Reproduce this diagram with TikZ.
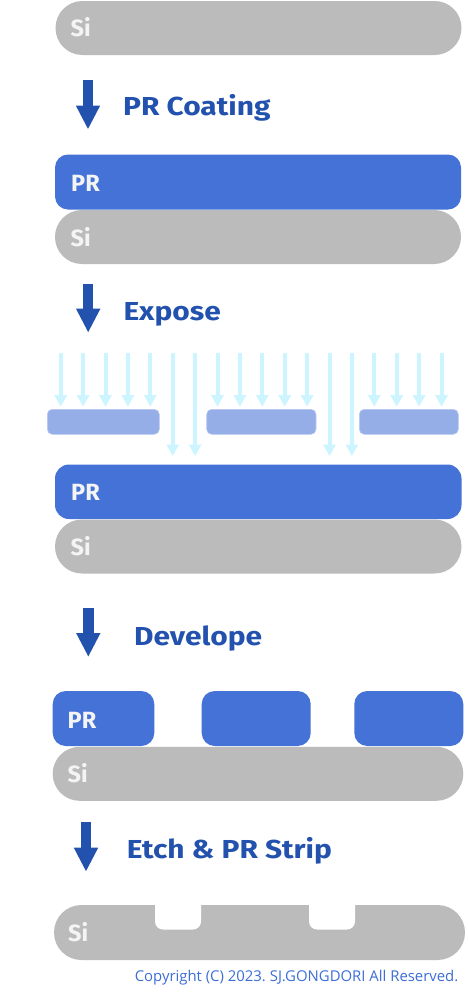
\documentclass[tikz,border=0pt]{standalone}
\usepackage{fontspec}
\setmainfont{Open Sans}
\newfontfamily\titlefont{Fira Sans}
\newfontfamily\lblfont{Fira Sans}
\frenchspacing
\usetikzlibrary{arrows.meta}
\definecolor{sigray}{HTML}{BBBBBB}
\definecolor{prblue}{HTML}{4472D6}
\definecolor{maskblue}{HTML}{96AEE8}
\definecolor{maskedge}{HTML}{B8C8F0}
\definecolor{expocyan}{HTML}{CCF5FF}
\definecolor{stepblue}{HTML}{2352AE}
\definecolor{copyblue}{HTML}{3C6ED6}
\definecolor{lbltext}{HTML}{F4F4F4}
\newcommand{\wide}[1]{\scalebox{1.15}[1]{#1}}
\tikzset{
  layer/.style={anchor=north west, inner sep=0pt, outer sep=0pt, draw=none},
  silayer/.style={layer, fill=sigray, rounded corners=26.9pt, minimum height=54pt},
  prlayer/.style={layer, fill=prblue, rounded corners=13pt, minimum height=55pt},
  masklayer/.style={layer, fill=maskblue, draw=maskedge, line width=0.6pt, rounded corners=5pt, minimum height=25pt},
  lbl/.style={anchor=base west, inner sep=0pt, text=lbltext, font=\fontsize{23.5}{23.5}\lblfont\bfseries},
  steptitle/.style={anchor=base west, inner sep=0pt, text=stepblue, font=\fontsize{26}{26}\titlefont\bfseries},
  steparrow/.style={draw=stepblue, line width=10.5pt, -{Triangle[width=22.5pt,length=24pt]}},
  expo/.style={draw=expocyan, line width=4pt, -{Triangle[width=12pt,length=11.5pt]}}
}
\begin{document}
\begin{tikzpicture}[x=1pt,y=-1pt]
\useasboundingbox (0,0) rectangle (468,997);
% Step 1
\node[silayer, minimum width=406pt] (si1) at (55.5,1) {};
\node[lbl] (si1l) at (70.5,36) {Si};
% Arrow 1
\coordinate (a1s) at (88,80);
\coordinate (a1e) at (88,129.5);
\draw[steparrow] (a1s) -- (a1e);
\node[steptitle] (t1) at (123,115) {\wide{PR Coating}};
% Step 2
\node[prlayer, minimum width=406pt] (pr2) at (55,154.5) {};
\node[lbl] (pr2l) at (71,191) {PR};
\node[silayer, minimum width=406pt] (si2) at (55,210) {};
\node[lbl] (si2l) at (70.5,246) {Si};
% Arrow 2
\coordinate (a2s) at (88.2,284.3);
\coordinate (a2e) at (88.2,332.7);
\draw[steparrow] (a2s) -- (a2e);
\node[steptitle] (t2) at (123.3,320) {\wide{Expose}};
% Exposure
\foreach \k in {0,...,17}{
  \pgfmathsetmacro{\xx}{60.7+22.4*\k}
  \ifnum\k=5 \def\yy{456}\else\ifnum\k=6 \def\yy{456}\else\ifnum\k=12 \def\yy{456}\else\ifnum\k=13 \def\yy{456}\else\def\yy{406.7}\fi\fi\fi\fi
  \coordinate (e\k s) at (\xx,352.7);
  \coordinate (e\k e) at (\xx,\yy);
  \draw[expo] (e\k s) -- (e\k e);
}
\node[masklayer, minimum width=112pt] (m1) at (47.3,409.3) {};
\node[masklayer, minimum width=109.3pt] (m2) at (206.7,409.3) {};
\node[masklayer, minimum width=99pt] (m3) at (359.3,409.3) {};
\node[prlayer, minimum width=406.5pt, rounded corners=14pt, minimum height=54.5pt] (pr3) at (55,464.5) {};
\node[lbl] (pr3l) at (71,500.7) {PR};
\node[silayer, minimum width=406.5pt] (si3) at (55,519.5) {};
\node[lbl] (si3l) at (70.5,555) {Si};
% Arrow 3
\coordinate (a3s) at (88.3,608.3);
\coordinate (a3e) at (88.3,657);
\draw[steparrow] (a3s) -- (a3e);
\node[steptitle] (t3) at (134,645) {\wide{Develope}};
% Step 4
\node[prlayer, minimum width=101.6pt] (pr4a) at (52.7,691) {};
\node[prlayer, minimum width=109pt] (pr4b) at (201.7,691) {};
\node[prlayer, minimum width=109pt] (pr4c) at (354.3,691) {};
\node[lbl] (pr4l) at (67.5,728.3) {PR};
\node[silayer, minimum width=410.6pt] (si4) at (52.7,746.8) {};
\node[lbl] (si4l) at (67.5,782.5) {Si};
% Arrow 4
\coordinate (a4s) at (86,822.3);
\coordinate (a4e) at (86,871.7);
\draw[steparrow] (a4s) -- (a4e);
\node[steptitle] (t4) at (126.7,858.3) {\wide{Etch \& PR Strip}};
% Step 5 (etched Si)
\node[silayer, minimum width=411pt, minimum height=55pt, rounded corners=27.4pt] (si5) at (54,905) {};
\fill[white, rounded corners=8pt] (155,880) rectangle (201,929.5);
\fill[white, rounded corners=8pt] (309,880) rectangle (355,929.5);
\node[lbl] (si5l) at (68,941.7) {Si};
% Copyright
\node[anchor=base east, inner sep=0pt, text=copyblue, font=\fontsize{14.9}{14.9}\selectfont] (copy) at (458.5,981.7) {Copyright (C) 2023. SJ.GONGDORI All Reserved.};
\end{tikzpicture}
\end{document}
